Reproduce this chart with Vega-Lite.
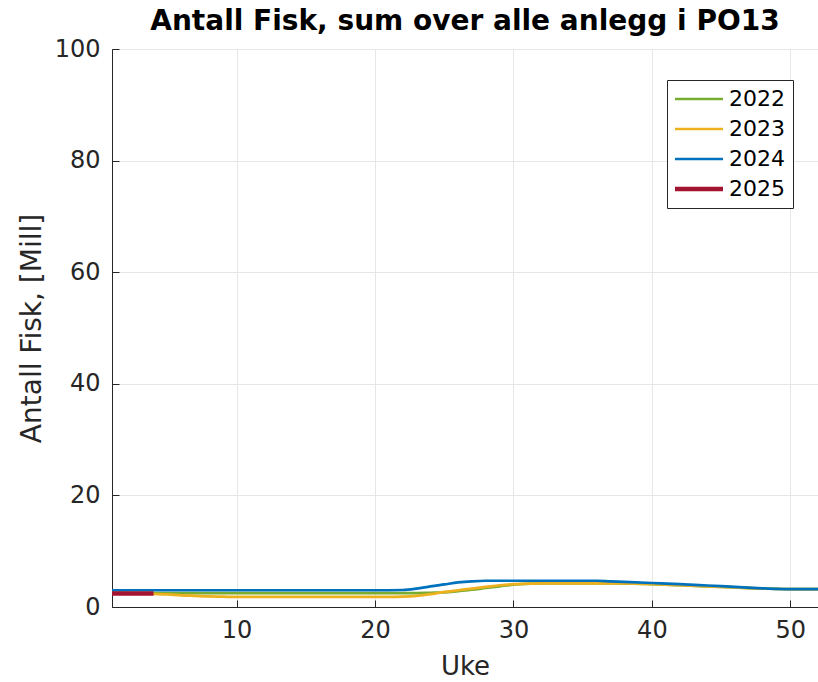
{
  "$schema": "https://vega.github.io/schema/vega-lite/v6.json",
  "width": 706,
  "height": 558,
  "autosize": {"type": "none"},
  "padding": {"left": 112, "top": 49, "right": 0, "bottom": 75},
  "background": "white",
  "config": {
    "font": "DejaVu Sans",
    "view": {"stroke": "#262626", "strokeWidth": 1}
  },
  "title": {"text": "Antall Fisk, sum over alle anlegg i PO13", "fontSize": 28, "fontWeight": "bold", "color": "#000000", "anchor": "middle", "offset": 1, "font": "DejaVu Sans"},
  "data": {"values": [
    {"uke": 1, "year": "2022", "fisk": 2.5}, {"uke": 5, "year": "2022", "fisk": 2.5}, {"uke": 10, "year": "2022", "fisk": 2.5}, {"uke": 15, "year": "2022", "fisk": 2.5}, {"uke": 20, "year": "2022", "fisk": 2.5}, {"uke": 22, "year": "2022", "fisk": 2.5}, {"uke": 23, "year": "2022", "fisk": 2.5}, {"uke": 24, "year": "2022", "fisk": 2.55}, {"uke": 25, "year": "2022", "fisk": 2.6}, {"uke": 26, "year": "2022", "fisk": 2.85}, {"uke": 27, "year": "2022", "fisk": 3.1}, {"uke": 28, "year": "2022", "fisk": 3.4}, {"uke": 29, "year": "2022", "fisk": 3.7}, {"uke": 30, "year": "2022", "fisk": 4.0}, {"uke": 31, "year": "2022", "fisk": 4.15}, {"uke": 32, "year": "2022", "fisk": 4.25}, {"uke": 35, "year": "2022", "fisk": 4.25}, {"uke": 37, "year": "2022", "fisk": 4.25}, {"uke": 38, "year": "2022", "fisk": 4.2}, {"uke": 40, "year": "2022", "fisk": 4.1}, {"uke": 42, "year": "2022", "fisk": 3.9}, {"uke": 44, "year": "2022", "fisk": 3.7}, {"uke": 46, "year": "2022", "fisk": 3.5}, {"uke": 48, "year": "2022", "fisk": 3.3}, {"uke": 49, "year": "2022", "fisk": 3.25}, {"uke": 50, "year": "2022", "fisk": 3.2}, {"uke": 52, "year": "2022", "fisk": 3.2},
    {"uke": 1, "year": "2023", "fisk": 2.5}, {"uke": 2, "year": "2023", "fisk": 2.5}, {"uke": 3, "year": "2023", "fisk": 2.45}, {"uke": 4, "year": "2023", "fisk": 2.35}, {"uke": 5, "year": "2023", "fisk": 2.25}, {"uke": 6, "year": "2023", "fisk": 2.1}, {"uke": 7, "year": "2023", "fisk": 2.0}, {"uke": 8, "year": "2023", "fisk": 1.9}, {"uke": 9, "year": "2023", "fisk": 1.85}, {"uke": 10, "year": "2023", "fisk": 1.8}, {"uke": 15, "year": "2023", "fisk": 1.8}, {"uke": 21, "year": "2023", "fisk": 1.8}, {"uke": 22, "year": "2023", "fisk": 1.85}, {"uke": 23, "year": "2023", "fisk": 2.0}, {"uke": 24, "year": "2023", "fisk": 2.3}, {"uke": 25, "year": "2023", "fisk": 2.7}, {"uke": 26, "year": "2023", "fisk": 3.0}, {"uke": 27, "year": "2023", "fisk": 3.3}, {"uke": 28, "year": "2023", "fisk": 3.6}, {"uke": 29, "year": "2023", "fisk": 3.9}, {"uke": 30, "year": "2023", "fisk": 4.1}, {"uke": 31, "year": "2023", "fisk": 4.2}, {"uke": 32, "year": "2023", "fisk": 4.25}, {"uke": 35, "year": "2023", "fisk": 4.25}, {"uke": 38, "year": "2023", "fisk": 4.25}, {"uke": 39, "year": "2023", "fisk": 4.2}, {"uke": 40, "year": "2023", "fisk": 4.1}, {"uke": 42, "year": "2023", "fisk": 3.9}, {"uke": 44, "year": "2023", "fisk": 3.7}, {"uke": 46, "year": "2023", "fisk": 3.5}, {"uke": 48, "year": "2023", "fisk": 3.3}, {"uke": 49, "year": "2023", "fisk": 3.25}, {"uke": 50, "year": "2023", "fisk": 3.2}, {"uke": 52, "year": "2023", "fisk": 3.2},
    {"uke": 1, "year": "2024", "fisk": 3.0}, {"uke": 5, "year": "2024", "fisk": 3.0}, {"uke": 10, "year": "2024", "fisk": 3.0}, {"uke": 15, "year": "2024", "fisk": 3.0}, {"uke": 20, "year": "2024", "fisk": 3.0}, {"uke": 22, "year": "2024", "fisk": 3.05}, {"uke": 23, "year": "2024", "fisk": 3.3}, {"uke": 24, "year": "2024", "fisk": 3.7}, {"uke": 25, "year": "2024", "fisk": 4.05}, {"uke": 26, "year": "2024", "fisk": 4.4}, {"uke": 27, "year": "2024", "fisk": 4.6}, {"uke": 28, "year": "2024", "fisk": 4.7}, {"uke": 32, "year": "2024", "fisk": 4.7}, {"uke": 36, "year": "2024", "fisk": 4.7}, {"uke": 37, "year": "2024", "fisk": 4.6}, {"uke": 38, "year": "2024", "fisk": 4.5}, {"uke": 40, "year": "2024", "fisk": 4.3}, {"uke": 42, "year": "2024", "fisk": 4.1}, {"uke": 44, "year": "2024", "fisk": 3.85}, {"uke": 46, "year": "2024", "fisk": 3.6}, {"uke": 48, "year": "2024", "fisk": 3.35}, {"uke": 49, "year": "2024", "fisk": 3.25}, {"uke": 50, "year": "2024", "fisk": 3.2}, {"uke": 52, "year": "2024", "fisk": 3.2},
    {"uke": 1, "year": "2025", "fisk": 2.4}, {"uke": 2, "year": "2025", "fisk": 2.4}, {"uke": 3, "year": "2025", "fisk": 2.4}, {"uke": 4, "year": "2025", "fisk": 2.4}
  ]},
  "encoding": {
    "x": {"field": "uke", "type": "quantitative", "title": "Uke",
      "scale": {"domain": [1, 52], "nice": false, "zero": false},
      "axis": {"values": [10, 20, 30, 40, 50], "grid": true, "gridColor": "#e6e6e6", "domainColor": "#262626", "tickColor": "#262626", "tickSize": -7, "labelPadding": 18, "labelFontSize": 24, "labelColor": "#262626", "titleFontSize": 26, "titleFontWeight": "normal", "titleColor": "#262626", "titlePadding": 11, "labelFont": "DejaVu Sans", "titleFont": "DejaVu Sans"}},
    "y": {"field": "fisk", "type": "quantitative", "title": "Antall Fisk, [Mill]",
      "scale": {"domain": [0, 100], "nice": false},
      "axis": {"values": [0, 20, 40, 60, 80, 100], "grid": true, "gridColor": "#e6e6e6", "domainColor": "#262626", "tickColor": "#262626", "tickSize": -7, "labelPadding": 19, "labelFontSize": 24, "labelColor": "#262626", "titleFontSize": 28, "titleFontWeight": "normal", "titleColor": "#262626", "titlePadding": 8, "labelFont": "DejaVu Sans", "titleFont": "DejaVu Sans"}},
    "color": {"field": "year", "type": "nominal", "title": null,
      "scale": {"domain": ["2022", "2023", "2024", "2025"], "range": ["#77AC30", "#EDB120", "#0072BD", "#A2142F"]},
      "legend": {"orient": "none", "legendX": 555, "legendY": 31, "symbolType": "stroke", "symbolSize": 2304, "symbolStrokeWidth": 2.7, "symbolOffset": 13, "labelFontSize": 22, "labelColor": "#000000", "labelFont": "DejaVu Sans", "strokeColor": "#262626", "fillColor": "white", "padding": 8, "rowPadding": 8, "labelOffset": 19,
        "encode": {"symbols": {"update": {"strokeWidth": {"signal": "datum.value === '2025' ? 4.5 : 2.7"}}}}}}
  },
  "layer": [
    {"transform": [{"filter": "datum.year !== '2025'"}],
     "mark": {"type": "line", "interpolate": "monotone", "clip": true, "strokeWidth": 2.7}},
    {"transform": [{"filter": "datum.year === '2025'"}],
     "mark": {"type": "line", "interpolate": "monotone", "clip": true, "strokeWidth": 4.5}}
  ]
}
